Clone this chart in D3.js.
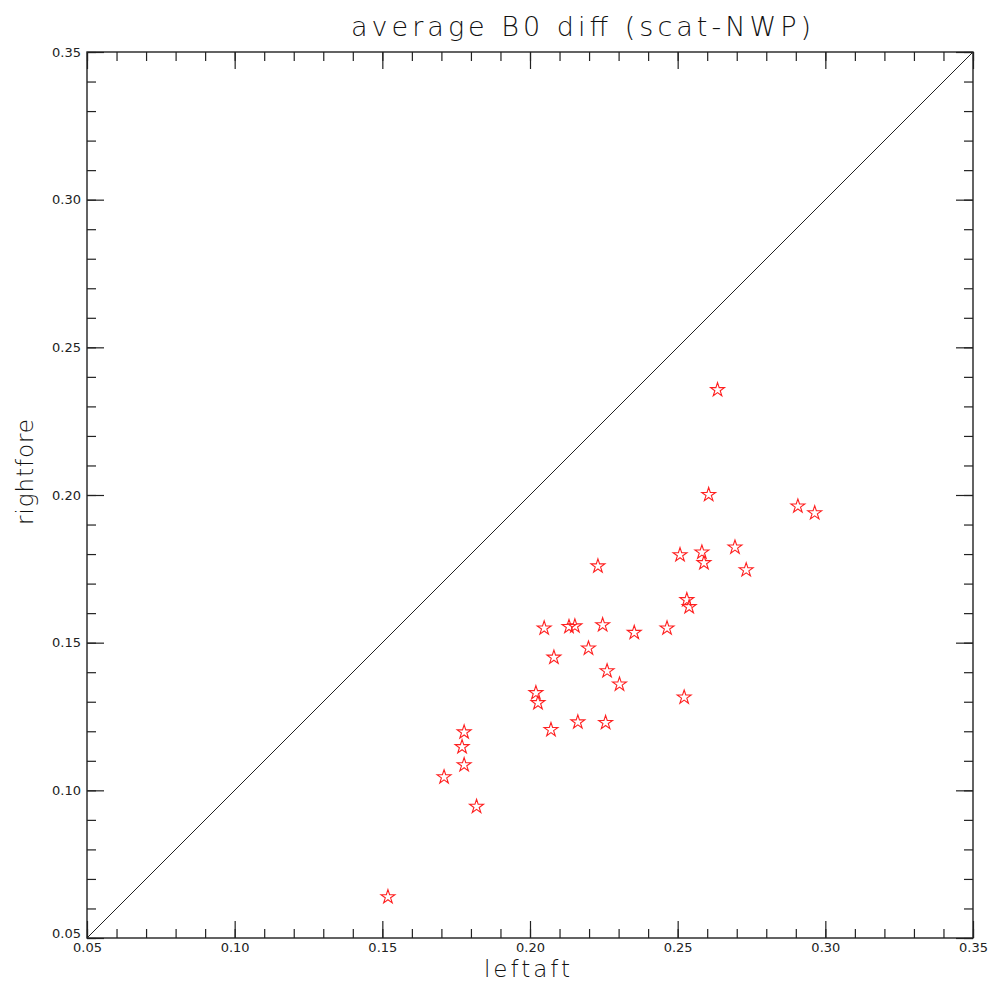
<!DOCTYPE html>
<meta charset="utf-8"/>
<style>
  body { margin: 0; background: #fff; }
  text { font-family: "DejaVu Sans", sans-serif; fill: #111; }
  .axis path { display: none; }
  .axis line { stroke: #222; stroke-width: 1.2px; }
  .axis text { font-size: 13px; fill: #222; }
</style>
<svg width="991" height="983"></svg>
<script src="https://d3js.org/d3.v7.min.js"></script>
<script>
  // values
  var leftaft = [0.1519, 0.1709, 0.1819, 0.1777, 0.1770, 0.1777, 0.2071, 0.2162, 0.2256,
    0.2020, 0.2027, 0.2303, 0.2261, 0.2081, 0.2198, 0.2048, 0.2132, 0.2152, 0.2246,
    0.2353, 0.2464, 0.2230, 0.2508, 0.2522, 0.2531, 0.2539, 0.2582, 0.2589, 0.2605,
    0.2635, 0.2694, 0.2732, 0.2907, 0.2964];
  var rightfore = [0.0639, 0.1045, 0.0945, 0.1086, 0.1147, 0.1197, 0.1205, 0.1231, 0.1229,
    0.1330, 0.1296, 0.1359, 0.1404, 0.1450, 0.1481, 0.1549, 0.1554, 0.1556, 0.1560,
    0.1534, 0.1549, 0.1759, 0.1797, 0.1315, 0.1645, 0.1621, 0.1806, 0.1770, 0.2001,
    0.2356, 0.1823, 0.1746, 0.1962, 0.1939];
  var majorTicks = [0.05, 0.10, 0.15, 0.20, 0.25, 0.30, 0.35];
  var minorTicks = d3.range(5, 36).map(function (d) { return d / 100; });

  var svg = d3.select("svg");
  var margin = { left: 87, top: 52 },
    w = 886, h = 886;

  var x = d3.scaleLinear().domain([0.05, 0.35]).range([0, w]);
  var y = d3.scaleLinear().domain([0.05, 0.35]).range([h, 0]);

  var g = svg.append("g").attr("transform", "translate(" + margin.left + "," + margin.top + ")");

  var fmt = d3.format(".2f");

  // minor ticks (inward, all four sides)
  g.append("g").attr("class", "axis").attr("transform", "translate(0," + h + ")")
    .call(d3.axisBottom(x).tickValues(minorTicks).tickSize(-9).tickFormat(""));
  g.append("g").attr("class", "axis")
    .call(d3.axisTop(x).tickValues(minorTicks).tickSize(-9).tickFormat(""));
  g.append("g").attr("class", "axis")
    .call(d3.axisLeft(y).tickValues(minorTicks).tickSize(-9).tickFormat(""));
  g.append("g").attr("class", "axis").attr("transform", "translate(" + w + ",0)")
    .call(d3.axisRight(y).tickValues(minorTicks).tickSize(-9).tickFormat(""));

  // major ticks with labels on bottom and left
  g.append("g").attr("class", "axis").attr("transform", "translate(0," + h + ")")
    .call(d3.axisBottom(x).tickValues(majorTicks).tickSize(-17).tickPadding(3).tickFormat(fmt))
    .selectAll("text").attr("dy", "0.85em");
  g.append("g").attr("class", "axis")
    .call(d3.axisTop(x).tickValues(majorTicks).tickSize(-17).tickFormat(""));
  g.append("g").attr("class", "axis")
    .call(d3.axisLeft(y).tickValues(majorTicks).tickSize(-17).tickPadding(6).tickFormat(fmt))
    .selectAll("text").filter(function (d) { return d === 0.05; })
    .attr("dy", "-0.05em");
  g.append("g").attr("class", "axis").attr("transform", "translate(" + w + ",0)")
    .call(d3.axisRight(y).tickValues(majorTicks).tickSize(-17).tickFormat(""));

  // frame
  g.append("rect").attr("width", w).attr("height", h)
    .attr("fill", "none").attr("stroke", "#222").attr("stroke-width", 1.4);

  // 1:1 line
  g.append("line")
    .attr("x1", x(0.05)).attr("y1", y(0.05))
    .attr("x2", x(0.35)).attr("y2", y(0.35))
    .attr("stroke", "#222").attr("stroke-width", 1);

  var pts = leftaft.map(function (d, i) { return [d, rightfore[i]]; });
  var star = d3.symbol().type(d3.symbolStar).size(60);
  g.selectAll(".pt").data(pts).enter().append("path")
    .attr("class", "pt")
    .attr("d", star)
    .attr("transform", function (d) { return "translate(" + x(d[0]) + "," + y(d[1]) + ")"; })
    .attr("fill", "none")
    .attr("stroke", "#ff2020")
    .attr("stroke-width", 1.1);

  // titles
  svg.append("text")
    .attr("x", 581).attr("y", 36)
    .attr("text-anchor", "middle")
    .attr("font-size", 27).attr("font-weight", 200)
    .attr("textLength", 460).attr("lengthAdjust", "spacing")
    .text("average B0 diff (scat-NWP)");

  svg.append("text")
    .attr("x", 527).attr("y", 977)
    .attr("text-anchor", "middle")
    .attr("font-size", 23).attr("font-weight", 200)
    .attr("textLength", 86).attr("lengthAdjust", "spacing")
    .text("leftaft");

  svg.append("text")
    .attr("transform", "translate(33,472) rotate(-90)")
    .attr("text-anchor", "middle")
    .attr("font-size", 23).attr("font-weight", 200)
    .attr("textLength", 106).attr("lengthAdjust", "spacing")
    .text("rightfore");
</script>
